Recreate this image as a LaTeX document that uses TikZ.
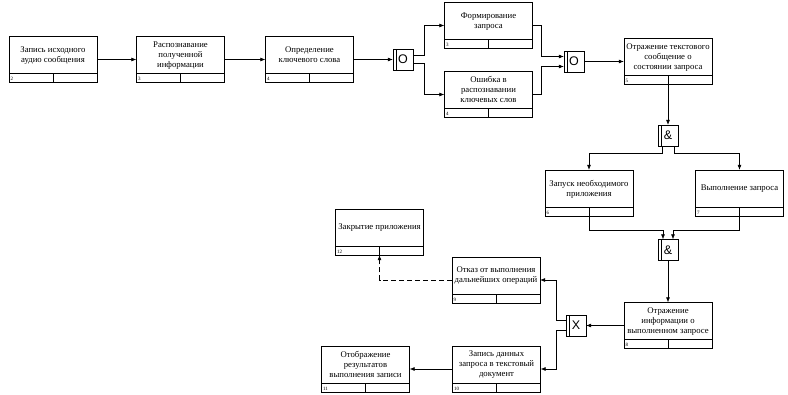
\documentclass[tikz,border=0pt]{standalone}
\usepackage{fontspec}
\setmainfont{Liberation Serif}
\newfontfamily\jfont{Liberation Sans}
\usetikzlibrary{arrows.meta,positioning}

\begin{document}
\begin{tikzpicture}[x=1pt, y=-1pt,
    act/.style={rectangle, draw, minimum width=88pt, minimum height=46pt, inner sep=1pt, text depth=10pt, align=center, font=\fontsize{8.7}{10}\selectfont,
      path picture={\draw ([yshift=9pt]path picture bounding box.south west) -- ([yshift=9pt]path picture bounding box.south east);
        \draw (path picture bounding box.south) -- ([yshift=9pt]path picture bounding box.south);}},
    num/.style={anchor=south west, inner sep=1.5pt, font=\fontsize{5}{5}\selectfont},
    junc/.style={rectangle, draw, minimum width=20pt, minimum height=21pt, inner sep=0pt, font=\jfont\fontsize{12.5}{12.5}\selectfont,
      path picture={\draw ([xshift=3pt]path picture bounding box.south west) -- ([xshift=3pt]path picture bounding box.north west);}},
    arr/.style={-{Latex[length=5pt,width=4pt]}, line width=0.6pt}]

\useasboundingbox (0,0) rectangle (788,395);

\node[act, label={[num]south west:2}] (a2) at (53,59.5) {Запись исходного\\аудио сообщения};
\node[act, label={[num]south west:3}] (a3) at (180.5,59.5) {Распознавание\\полученной\\информации};
\node[act, label={[num]south west:4}] (a4) at (309.5,59.5) {Определение\\ключевого слова};
\node[junc] (j1) at (403,59.5) {O};
\node[act, label={[num]south west:3}] (a5f) at (488.5,25.5) {Формирование\\запроса};
\node[act, label={[num]south west:4}] (a5e) at (488.5,94.5) {Ошибка в\\распознавании\\ключевых слов};
\node[junc] (j2) at (574,61.5) {O};
\node[act, label={[num]south west:5}] (a5) at (668,61.5) {Отражение текстового\\сообщение о\\состоянии запроса};
\node[junc] (j3) at (668,135.5) {\&};
\node[act, label={[num]south west:6}] (a6) at (589,193) {Запуск необходимого\\приложения};
\node[act, label={[num]south west:7}] (a7) at (739.5,193) {Выполнение запроса};
\node[junc] (j4) at (668,250) {\&};
\node[act, label={[num]south west:8}] (a8) at (668,325.5) {Отражение\\информации о\\выполненном запросе};
\node[junc] (j5) at (576,325.5) {X};
\node[act, label={[num]south west:9}] (a9) at (496,280) {Отказ от выполнения\\дальнейших операций};
\node[act, label={[num]south west:12}] (a12) at (379.5,232) {Закрытие приложения};
\node[act, label={[num]south west:10}] (a10) at (496.5,369) {Запись данных\\запроса в текстовый\\документ};
\node[act, label={[num]south west:11}] (a11) at (365.5,369) {Отображение\\результатов\\выполнения записи};

\draw[arr] (a2) -- (a3);
\draw[arr] (a3) -- (a4);
\draw[arr] (a4) -- (j1);
\draw[arr] ([yshift=4pt]j1.east) -- ++(11,0) |- (a5f.west);
\draw[arr] ([yshift=-4pt]j1.east) -- ++(11,0) |- (a5e.west);
\draw[arr] (a5f.east) -- ++(9,0) |- ([yshift=5pt]j2.west);
\draw[arr] (a5e.east) -- ++(9,0) |- ([yshift=-5pt]j2.west);
\draw[arr] (j2) -- (a5);
\draw[arr] (a5) -- (j3);
\draw[arr] ([xshift=-6pt]j3.south) -- ++(0,7) -| (a6.north);
\draw[arr] ([xshift=6pt]j3.south) -- ++(0,7) -| (a7.north);
\draw[arr] (a6.south) -- ++(0,14) -| ([xshift=-5pt]j4.north);
\draw[arr] (a7.south) -- ++(0,14) -| ([xshift=5pt]j4.north);
\draw[arr] (j4) -- (a8);
\draw[arr] (a8) -- (j5);
\draw[arr] ([yshift=5pt]j5.west) -- ++(-10,0) |- (a9.east);
\draw[arr] ([yshift=-5pt]j5.west) -- ++(-10,0) |- (a10.east);
\draw[arr, dash pattern=on 5pt off 3pt] (a9.west) -| (a12.south);
\draw[arr] (a10) -- (a11);

\end{tikzpicture}
\end{document}
